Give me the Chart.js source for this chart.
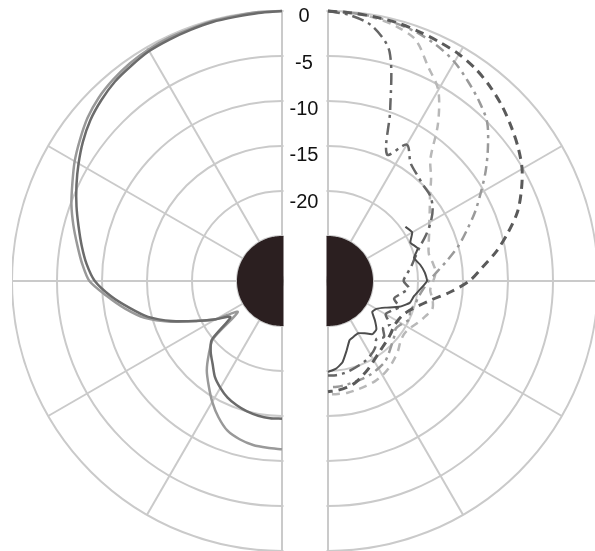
<!DOCTYPE html>
<html><head><meta charset="utf-8">
<script src="https://cdn.jsdelivr.net/npm/chart.js@4.4.1/dist/chart.umd.min.js"></script>
<style>
html,body{margin:0;padding:0;background:#fff;width:595px;height:551px;overflow:hidden;}
#wrap{position:relative;width:595px;height:551px;overflow:hidden;background:#fff;}
canvas{position:absolute;top:0px;}
#left{left:12px;} #right{left:58px;}
</style></head><body>
<div id="wrap"><canvas id="left" width="540" height="551"></canvas><canvas id="right" width="540" height="551"></canvas></div>
<script>
// angle categories (degrees, 5° steps around the full circle)
const angleLabels = ['0','5','10','15','20','25','30','35','40','45','50','55','60','65','70','75','80','85',
  '90','95','100','105','110','115','120','125','130','135','140','145','150','155','160','165','170','175',
  '180','185','190','195','200','205','210','215','220','225','230','235','240','245','250','255','260','265',
  '270','275','280','285','290','295','300','305','310','315','320','325','330','335','340','345','350','355'];
// level ticks (dB)
const tickValues = [0, -5, -10, -15, -20];
const discLevel = -25;

// values in dB for angles 0..180 (5° steps), measured from the front (top)
const leftA = [0,0,-0.1,-0.1,-0.2,-0.2,-0.3,-0.5,-0.8,-1.2,-1.8,-2.6,-3.4,-4.3,-5.1,-6.0,-6.9,-7.7,-8.6,-10.5,-12.3,-14.2,-16.8,-19.5,-21.5,-24.0,-20.0,-18.5,-17.0,-15.8,-14.5,-13.3,-12.3,-11.8,-11.5,-11.4,-11.3];
const leftB = [0,-0.1,-0.2,-0.2,-0.3,-0.4,-0.5,-0.8,-1.1,-1.6,-2.2,-3.0,-3.9,-4.8,-5.7,-6.6,-7.4,-8.2,-9.2,-10.9,-12.8,-14.6,-17.0,-19.5,-21.5,-23.0,-19.8,-18.8,-18.0,-17.0,-16.3,-15.7,-15.3,-15.0,-14.8,-14.7,-14.7];

const rightD1 = [0,-0.1,-0.2,-0.3,-0.5,-0.7,-0.9,-1.3,-1.9,-2.6,-3.4,-4.2,-5.1,-6.3,-7.6,-9.3,-11.0,-12.8,-14.3,-16.3,-18.2,-19.5,-20.4,-20.9,-21.1,-21.1,-20.9,-20.7,-20.5,-20.2,-19.8,-19.3,-18.8,-18.3,-18.0,-17.8,-17.7];
const rightD2 = [0,-0.4,-1.3,-3.6,-9.8,-14.5,-12.5,-14.0,-14.6,-15.0,-15.2,-15.8,-16.8,-18.0,-19.2,-20.0,-20.6,-21.2,-21.6,-21.0,-21.8,-22.4,-21.6,-22.2,-22.6,-21.6,-22.0,-21.2,-21.6,-20.9,-20.5,-20.2,-20.0,-19.8,-19.6,-19.5,-19.5];
const rightM1 = [0,-0.1,-0.2,-0.4,-0.7,-1.2,-1.9,-2.9,-3.9,-5.0,-6.8,-8.6,-10.4,-12.0,-13.6,-15.0,-16.5,-17.8,-18.8,-19.4,-19.8,-20.0,-20.3,-20.0,-20.5,-20.8,-20.4,-20.0,-19.5,-19.0,-18.8,-18.6,-18.5,-18.4,-18.3,-18.2,-18.2];
const rightL1 = [0,-0.1,-0.3,-0.7,-1.5,-3.7,-5.5,-8.7,-12.3,-13.8,-15.2,-16.2,-17.0,-17.6,-18.1,-18.4,-18.2,-18.0,-18.3,-18.6,-18.2,-18.0,-18.5,-19.0,-19.5,-19.7,-19.5,-19.0,-18.6,-18.2,-17.9,-17.7,-17.6,-17.5,-17.4,-17.4,-17.4];
const rightW = [null,null,null,null,null,null,null,null,null,null,null,-19.5,-19.2,-19.9,-19.4,-20.1,-19.6,-19.2,-19.0,-19.7,-20.3,-20.6,-21.6,-23.0,-23.8,-24.0,-23.2,-22.4,-22.3,-22.9,-23.3,-23.2,-23.0,-22.0,-20.8,-20.2,-19.9];

const pad = Array(angleLabels.length - 37).fill(null);
// left half: scale starts at the rear (180°) and runs clockwise up the left side to the front
const toLeft = a => a.slice().reverse().concat(pad);
const toRight = a => a.concat(pad);
const disc = angleLabels.map(() => discLevel);

const GRID = '#cacaca';
function scaleOpts(start){
  return { r: { min:-30, max:0, startAngle:start,
    ticks:{display:false, stepSize:5},
    pointLabels:{display:false},
    grid:{circular:true, color:GRID, lineWidth:2},
    angleLines:{display:true, lineWidth:2, color: c => (c.index % 6 === 0 ? GRID : 'rgba(0,0,0,0)')}
  }};
}
function halfPlugin(side, withTicks){
  return { id:'half'+side,
    beforeDraw(chart){
      const c = chart.ctx, s = chart.scales.r;
      c.save(); c.beginPath();
      if (side === 'left') c.rect(0, 0, s.xCenter + 1.5, chart.height);
      else c.rect(s.xCenter - 1.5, 0, chart.width, chart.height);
      c.clip();
    },
    afterDraw(chart){
      const c = chart.ctx, s = chart.scales.r;
      c.restore();
      if (withTicks){
        c.save();
        c.fillStyle = '#111';
        c.font = '20px "Liberation Sans", Arial, sans-serif';
        c.textAlign = 'center'; c.textBaseline = 'middle';
        tickValues.forEach(v => {
          c.fillText(String(v), s.xCenter + 22, s.yCenter - 1.03 * s.getDistanceFromCenterForValue(v) + 14);
        });
        c.restore();
      }
    }
  };
}
const common = (start) => ({
  responsive:false, animation:false, devicePixelRatio:1,
  layout:{padding:{top:11, left:0, right:0, bottom:0}},
  plugins:{legend:{display:false}, tooltip:{enabled:false}},
  elements:{point:{radius:0}},
  scales: scaleOpts(start)
});
const discDs = (data) => ({data, fill:'start', backgroundColor:'#2b1f20', borderWidth:0, tension:0.4, pointRadius:0});

new Chart(document.getElementById('left'), {
  type:'radar',
  data:{ labels: angleLabels, datasets:[
    discDs(disc),
    {data: toLeft(leftB), borderColor:'#6b6b6b', borderWidth:2.5, fill:false, tension:0.25},
    {data: toLeft(leftA), borderColor:'#999999', borderWidth:2.5, fill:false, tension:0.25}
  ]},
  options: common(180),
  plugins:[halfPlugin('left', true)]
});

new Chart(document.getElementById('right'), {
  type:'radar',
  data:{ labels: angleLabels, datasets:[
    discDs(disc),
    {data: toRight(rightW), borderColor:'#4d4d4d', borderWidth:2, fill:false, tension:0.15},
    {data: toRight(rightD1), borderColor:'#5a5a5a', borderWidth:3, borderDash:[9,6], fill:false, tension:0.3},
    {data: toRight(rightD2), borderColor:'#666666', borderWidth:2.5, borderDash:[12,5,3,5], fill:false, tension:0.3},
    {data: toRight(rightM1), borderColor:'#9a9a9a', borderWidth:2.5, borderDash:[10,5,3,5], fill:false, tension:0.3},
    {data: toRight(rightL1), borderColor:'#b8b8b8', borderWidth:2.5, borderDash:[8,6], fill:false, tension:0.3}
  ]},
  options: common(0),
  plugins:[halfPlugin('right', false)]
});
</script>
</body></html>
